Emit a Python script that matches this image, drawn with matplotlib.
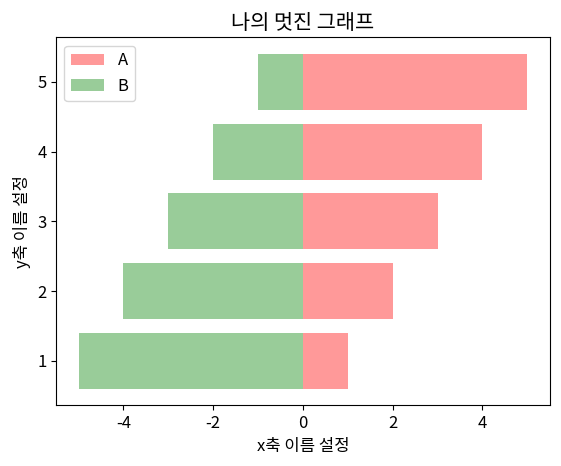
import matplotlib
matplotlib.use("Agg")
import matplotlib.pyplot as plt

plt.rcParams['font.family'] = ['Noto Sans CJK KR', 'DejaVu Sans']
plt.rcParams['axes.unicode_minus'] = False

y = [1, 2, 3, 4, 5]
a_vals = [1, 2, 3, 4, 5]
b_vals = [-5, -4, -3, -2, -1]

fig, ax = plt.subplots(figsize=(5.61, 4.66), dpi=100)
ax.barh(y, a_vals, color='red', alpha=0.4, label='A')
ax.barh(y, b_vals, color='green', alpha=0.4, label='B')

ax.set_title('나의 멋진 그래프', fontsize=15)
ax.set_xlabel('x축 이름 설정', fontsize=12)
ax.set_ylabel('y축 이름 설정', fontsize=12)
ax.set_xticks([-4, -2, 0, 2, 4])
ax.tick_params(labelsize=12)
ax.legend(loc='upper left', fontsize=12)

plt.subplots_adjust(left=0.1, right=0.98, top=0.92, bottom=0.13)
fig.savefig('out.png', dpi=100)
